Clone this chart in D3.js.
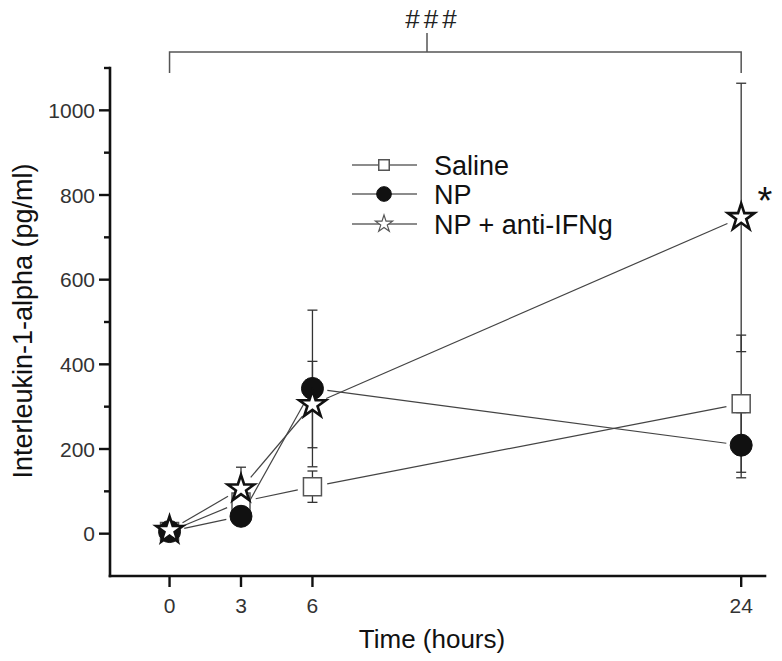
<!DOCTYPE html>
<html><head><meta charset="utf-8">
<script src="https://cdn.jsdelivr.net/npm/d3@7/dist/d3.min.js"></script>
<style>body{margin:0;background:#fff}svg{display:block}</style>
</head><body>
<script>
const times = [0, 3, 6, 24];
const xTickLabels = [0, 3, 6, 24];
const yTickLabels = [0, 200, 400, 600, 800, 1000];
const yMinorTicks = [100, 300, 500, 700, 900, 1100];
const seriesNames = ["Saline", "NP", "NP + anti-IFNg"];
const salineMean = [5, 75, 111, 307];
const salineErr = [10, 20, 37, 162];
const npMean = [5, 41, 343, 209];
const npErr = [8, 15, 185, 77];
const antiMean = [8, 106, 305, 747];
const antiErr = [10, 51, 102, 317];

const W = 782, H = 661;
const svg = d3.select("body").append("svg").attr("width", W).attr("height", H)
  .style("font-family", "Arial, 'Liberation Sans', sans-serif");

const x = d3.scaleLinear().domain([-2.5, 25]).range([110, 765]);
const y = d3.scaleLinear().domain([-100, 1100]).range([576, 68]);

const series = [
  {name: seriesNames[0], mean: salineMean, err: salineErr, type: "square"},
  {name: seriesNames[1], mean: npMean, err: npErr, type: "circle"},
  {name: seriesNames[2], mean: antiMean, err: antiErr, type: "star"}
];

function symPath(type, big) {
  if (type === "square") return d3.symbol(d3.symbolSquare, big ? 324 : 110)();
  if (type === "circle") return d3.symbol(d3.symbolCircle, big ? 380 : 170)();
  return d3.symbol(d3.symbolStar, big ? 14*14/0.8908 : 9*9/0.8908)();
}
function symStyle(sel, type, big) {
  if (type === "square") sel.attr("fill", "#fff").attr("stroke", "#555").attr("stroke-width", 1.5);
  else if (type === "circle") sel.attr("fill", "#111").attr("stroke", "#111").attr("stroke-width", 1);
  else sel.attr("fill", "#fff").attr("stroke", big ? "#111" : "#555").attr("stroke-width", big ? 2.6 : 1.2);
}

// error bars
const eb = svg.append("g").attr("stroke", "#333").attr("stroke-width", 1.3);
series.forEach(s => {
  times.forEach((t, i) => {
    const cx = x(t), hi = y(s.mean[i] + s.err[i]), lo = y(s.mean[i] - s.err[i]);
    eb.append("line").attr("x1", cx).attr("x2", cx).attr("y1", hi).attr("y2", lo);
    eb.append("line").attr("x1", cx - 5).attr("x2", cx + 5).attr("y1", hi).attr("y2", hi);
    eb.append("line").attr("x1", cx - 5).attr("x2", cx + 5).attr("y1", lo).attr("y2", lo);
  });
});

// connecting lines with gaps near markers
const gap = 15;
const lg = svg.append("g").attr("stroke", "#444").attr("stroke-width", 1.2);
series.forEach(s => {
  for (let i = 0; i < times.length - 1; i++) {
    const x1 = x(times[i]), y1 = y(s.mean[i]), x2 = x(times[i+1]), y2 = y(s.mean[i+1]);
    const d = Math.hypot(x2 - x1, y2 - y1);
    if (d <= 2 * gap) continue;
    const ux = (x2 - x1) / d, uy = (y2 - y1) / d;
    lg.append("line").attr("x1", x1 + ux*gap).attr("y1", y1 + uy*gap)
      .attr("x2", x2 - ux*gap).attr("y2", y2 - uy*gap);
  }
});

// markers
series.forEach(s => {
  times.forEach((t, i) => {
    svg.append("path").attr("d", symPath(s.type, true))
      .attr("transform", `translate(${x(t)},${y(s.mean[i])})`)
      .call(symStyle, s.type, true);
  });
});

// axes
const axisColor = "#111";
const ax = svg.append("g").attr("stroke", axisColor).attr("stroke-width", 2.6).attr("stroke-linecap", "square");
ax.append("line").attr("x1", x.range()[0]).attr("x2", x.range()[0]).attr("y1", y.range()[1]).attr("y2", y.range()[0]);
ax.append("line").attr("x1", x.range()[0]).attr("x2", x.range()[1]).attr("y1", y.range()[0]).attr("y2", y.range()[0]);
const tk = svg.append("g").attr("stroke", axisColor).attr("stroke-width", 2.4);
yTickLabels.forEach(v => tk.append("line").attr("x1", 110 - 11).attr("x2", 110).attr("y1", y(v)).attr("y2", y(v)));
yMinorTicks.forEach(v => tk.append("line").attr("x1", 110 - 6).attr("x2", 110).attr("y1", y(v)).attr("y2", y(v)));
xTickLabels.forEach(v => tk.append("line").attr("x1", x(v)).attr("x2", x(v)).attr("y1", 576).attr("y2", 587));

const lblColor = "#333";
yTickLabels.forEach(v => svg.append("text").attr("x", 95).attr("y", y(v)).attr("dy", "0.36em")
  .attr("text-anchor", "end").attr("font-size", 21).attr("fill", lblColor).text(v));
xTickLabels.forEach(v => svg.append("text").attr("x", x(v)).attr("y", 613)
  .attr("text-anchor", "middle").attr("font-size", 21).attr("fill", lblColor).text(v));

svg.append("text").attr("x", 432).attr("y", 648).attr("text-anchor", "middle")
  .attr("font-size", 26).attr("fill", "#111").text("Time (hours)");
svg.append("text").attr("transform", "translate(32,321) rotate(-90)").attr("text-anchor", "middle")
  .attr("font-size", 27).attr("fill", "#111").text("Interleukin-1-alpha (pg/ml)");

// significance bracket
const br = svg.append("g").attr("stroke", "#555").attr("stroke-width", 1.5).attr("fill", "none");
br.append("path").attr("d", `M${x(0)},73 V52 H${x(24)} V73`);
br.append("line").attr("x1", 427).attr("x2", 427).attr("y1", 33).attr("y2", 52);
svg.append("text").attr("x", 433).attr("y", 28).attr("text-anchor", "middle")
  .attr("font-size", 26).attr("letter-spacing", 4).attr("fill", "#222").text("###");
svg.append("text").attr("x", 765).attr("y", 214).attr("text-anchor", "middle")
  .attr("font-size", 38).attr("fill", "#111").text("*");

// legend
const legY = [165, 194, 224];
series.forEach((s, i) => {
  const g = svg.append("g");
  g.append("line").attr("x1", 352).attr("x2", 417).attr("y1", legY[i]).attr("y2", legY[i])
    .attr("stroke", "#666").attr("stroke-width", 1.3);
  g.append("path").attr("d", symPath(s.type, false)).attr("transform", `translate(384,${legY[i]})`)
    .call(symStyle, s.type, false);
  g.append("text").attr("x", 434).attr("y", legY[i]).attr("dy", "0.36em").attr("font-size", 27)
    .attr("fill", "#111").text(s.name);
});
</script>
</body></html>
